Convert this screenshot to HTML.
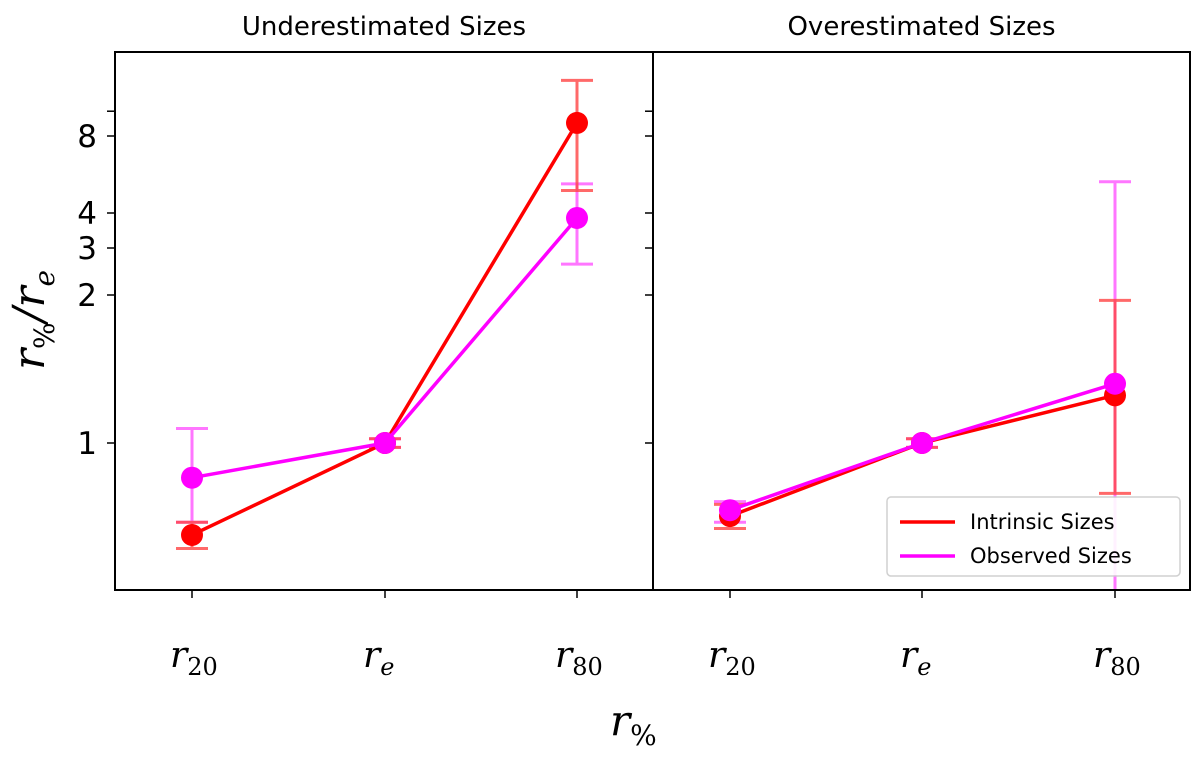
<!DOCTYPE html>
<html><head><meta charset="utf-8"><style>
body{margin:0;background:#fff;font-family:"DejaVu Sans","Liberation Sans",sans-serif}
</style></head><body>
<svg id="c" width="1200" height="756" xmlns="http://www.w3.org/2000/svg"></svg>
<script>
const categories=["20","e","80"];
const leftIntr=[0.65,1.0,9.0];
const leftIntrLo=[0.61,0.98,4.9];
const leftIntrHi=[0.69,1.02,13.2];
const leftObs=[0.85,1.0,3.84];
const leftObsLo=[0.69,0.98,2.61];
const leftObsHi=[1.07,1.02,5.2];
const rightIntr=[0.71,1.0,1.25];
const rightIntrLo=[0.67,0.98,0.79];
const rightIntrHi=[0.75,1.02,1.95];
const rightObs=[0.73,1.0,1.32];
const rightObsLo=[0.69,0.98,0.5];
const rightObsHi=[0.76,1.02,5.3];
const yTicks=[1,2,3,4,8];
const yTickLabels=["1","2","3","4","8"];
const knotV=[1,2,3,4,8];
const knotP=[443,295,248,213,136];
const NS="http://www.w3.org/2000/svg";
const svg=document.getElementById('c');
function el(t,a,p){const e=document.createElementNS(NS,t);for(const k in a)e.setAttribute(k,a[k]);(p||svg).appendChild(e);return e;}
function y(v){const l=Math.log(v);const kl=knotV.map(Math.log);
 let i=0;if(l<=kl[0])i=0;else if(l>=kl[kl.length-1])i=kl.length-2;else{while(l>kl[i+1])i++;}
 return knotP[i]+(l-kl[i])*(knotP[i+1]-knotP[i])/(kl[i+1]-kl[i]);}
const panels=[{x0:115,x1:653,xs:[192,385,577],title:"Underestimated Sizes",intr:[leftIntr,leftIntrLo,leftIntrHi],obs:[leftObs,leftObsLo,leftObsHi],labels:true},
{x0:653,x1:1190,xs:[730,922,1115],title:"Overestimated Sizes",intr:[rightIntr,rightIntrLo,rightIntrHi],obs:[rightObs,rightObsLo,rightObsHi],labels:false}];
const T=52,B=590;
panels.forEach((p,pi)=>{
 const g=el('g',{});
 
 
 const cp=el('clipPath',{id:'cp'+pi},g);el('rect',{x:p.x0,y:T,width:p.x1-p.x0,height:B-T},cp);
 const t=el('text',{x:(p.x0+p.x1)/2,y:35,'text-anchor':'middle','font-size':26,fill:'#000'},g);t.textContent=p.title;
 
 const plot=el('g',{'clip-path':'url(#cp'+pi+')'},g);
 [[p.obs,'#ff00ff','#ff55ff'],[p.intr,'#ff0000','#ff4444']].forEach(([s,c,ec],si)=>{
  for(let i=0;i<3;i++){const x=p.xs[i];
   const eb=el('g',{stroke:ec,'stroke-width':3,opacity:0.8},plot);
   
   el('line',{x1:x,x2:x,y1:y(s[1][i]),y2:y(s[2][i])},eb);
   el('line',{x1:x-16,x2:x+16,y1:y(s[1][i]),y2:y(s[1][i])},eb);
   el('line',{x1:x-16,x2:x+16,y1:y(s[2][i]),y2:y(s[2][i])},eb);}
 });
 [[p.intr,'#ff0000','intrinsic'],[p.obs,'#ff00ff','observed']].forEach(([s,c,n])=>{
  const pl=el('polyline',{points:p.xs.map((x,i)=>x+','+y(s[0][i])).join(' '),fill:'none',stroke:c,'stroke-width':3.5},plot);
  
  p.xs.forEach((x,i)=>{const c2=el('circle',{cx:x,cy:y(s[0][i]),r:11,fill:c},plot);
   });
 });
 el('rect',{x:p.x0,y:T,width:p.x1-p.x0,height:B-T,fill:'none',stroke:'#000','stroke-width':2},g);
 [...yTicks,10].forEach(v=>{el('line',{x1:p.x0-8,x2:p.x0,y1:y(v),y2:y(v),stroke:'#000','stroke-width':1.5},g);});
 if(p.labels)yTicks.forEach((v,i)=>{const tx=el('text',{x:p.x0-18,y:y(v)+11,'text-anchor':'end','font-size':31},g);tx.textContent=yTickLabels[i];
  });
 p.xs.forEach((x,i)=>{el('line',{x1:x,x2:x,y1:B,y2:B+8,stroke:'#000','stroke-width':1.5},g);
  const tx=el('text',{x:x-22,y:667,'font-size':36,'font-style':'italic','font-family':'DejaVu Serif, serif'},g);
  
  tx.textContent='r';const ts=el('tspan',{'font-size':24,dy:8,'font-style':categories[i]=='e'?'italic':'normal'},tx);ts.textContent=categories[i];});
});
const xl=el('text',{x:610,y:735,'font-size':42,'font-style':'italic','font-family':'DejaVu Serif, serif'});

xl.textContent='r';el('tspan',{'font-size':28,dy:10,'font-style':'normal'},xl).textContent='%';
const yl=el('text',{transform:'translate(44,320) rotate(-90)','text-anchor':'middle','font-size':44,'font-style':'italic','font-family':'DejaVu Serif, serif'});

yl.textContent='r';el('tspan',{'font-size':28,dy:10,'font-style':'normal'},yl).textContent='%';
el('tspan',{dy:-10},yl).textContent='/r';el('tspan',{'font-size':28,dy:10},yl).textContent='e';
const lg=el('g',{});
el('rect',{x:887,y:497,width:293,height:79,rx:4,fill:'#fff',stroke:'#ccc','stroke-width':1.5,opacity:0.9},lg);
[['Intrinsic Sizes','#ff0000',522],['Observed Sizes','#ff00ff',556]].forEach(([n,c,yy])=>{
 const e=el('g',{},lg);
 el('line',{x1:900,x2:955,y1:yy,y2:yy,stroke:c,'stroke-width':3.5},e);
 const t=el('text',{x:970,y:yy+7,'font-size':21},e);t.textContent=n;});
</script>
</body></html>
